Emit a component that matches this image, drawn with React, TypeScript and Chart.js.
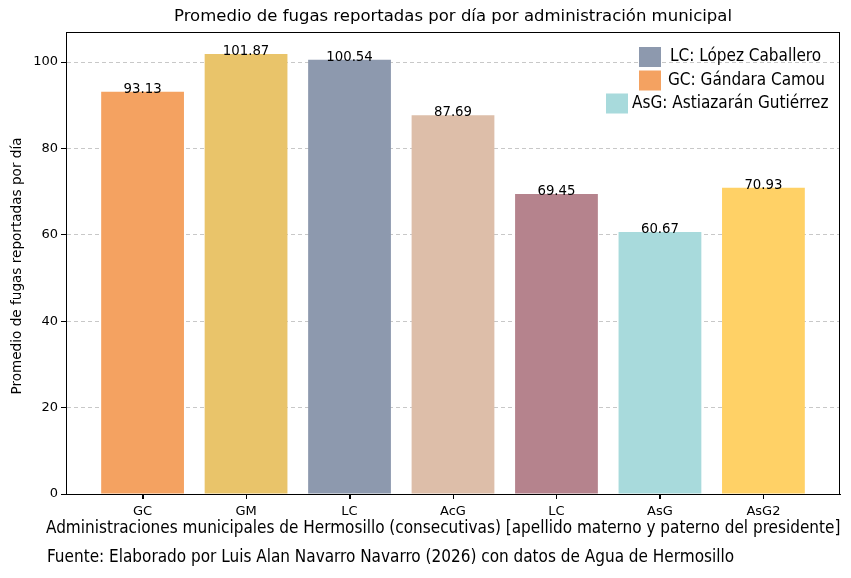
import React, { useEffect, useRef } from "react";
import { Chart, registerables } from "chart.js";

Chart.register(...registerables);

const categories = ["GC", "GM", "LC", "AcG", "LC", "AsG", "AsG2"];
const values = [93.13, 101.87, 100.54, 87.69, 69.45, 60.67, 70.93];
const barColors = ["#F4A261", "#E9C46A", "#8D99AE", "#DDBEA9", "#B5838D", "#A8DADC", "#FFD166"];
const yTicks = [0, 20, 40, 60, 80, 100];
const legendLabels = ["LC: López Caballero", "GC: Gándara Camou", "AsG: Astiazarán Gutiérrez"];
const legendColors = ["#8D99AE", "#F4A261", "#A8DADC"];

const titleText = "Promedio de fugas reportadas por día por administración municipal";
const yTitle = "Promedio de fugas reportadas por día";
const xTitle = "Administraciones municipales de Hermosillo (consecutivas) [apellido materno y paterno del presidente]";
const sourceText = "Fuente: Elaborado por Luis Alan Navarro Navarro (2026) con datos de Agua de Hermosillo";

const DV = "'DejaVu Sans', sans-serif";
const COND = "'Liberation Sans Narrow', 'DejaVu Sans Condensed', 'Roboto Condensed', sans-serif";

const decorPlugin = {
  id: "decor",
  afterDatasetsDraw(chart: any) {
    const { ctx, chartArea } = chart;
    const { left, right, top, bottom } = chartArea;
    ctx.save();
    // frame
    ctx.strokeStyle = "#000";
    ctx.lineWidth = 1;
    ctx.strokeRect(left + 0.5, top + 0.5, right - left - 1, bottom - top);
    // x tick marks
    const xs = chart.scales.x;
    ctx.beginPath();
    categories.forEach((_, i) => {
      const px = Math.round(xs.getPixelForValue(i)) + 0.5;
      ctx.moveTo(px, bottom);
      ctx.lineTo(px, bottom + 5);
    });
    ctx.stroke();
    // value labels
    const meta = chart.getDatasetMeta(0);
    ctx.fillStyle = "#000";
    ctx.font = `13.3px ${DV}`;
    ctx.textAlign = "center";
    ctx.textBaseline = "alphabetic";
    meta.data.forEach((bar: any, i: number) => {
      ctx.fillText(values[i].toFixed(2), bar.x, bar.y + 1);
    });
    // title
    ctx.font = `16.5px ${DV}`;
    ctx.textBaseline = "middle";
    ctx.fillText(titleText, (left + right) / 2, 17);
    // y title
    ctx.save();
    ctx.translate(17, (top + bottom) / 2 + 3);
    ctx.rotate(-Math.PI / 2);
    ctx.font = `13.6px ${DV}`;
    ctx.fillText(yTitle, 0, 0);
    ctx.restore();
    // x title & source
    ctx.textAlign = "left";
    ctx.font = `17px ${COND}`;
    ctx.fillText(xTitle, 46, 529);
    ctx.fillText(sourceText, 47, 558);
    // legend
    ctx.font = `17px ${COND}`;
    const textX = [670, 668, 632];
    const patchX = [639, 639, 606];
    const ys = [57, 80.5, 103.5];
    legendLabels.forEach((lab, i) => {
      ctx.fillStyle = legendColors[i];
      ctx.fillRect(patchX[i], ys[i] - 10, 22, 20);
      ctx.fillStyle = "#000";
      ctx.textAlign = "left";
      ctx.fillText(lab, textX[i], ys[i]);
    });
    ctx.restore();
  },
};

export default function App() {
  const ref = useRef<HTMLCanvasElement>(null);
  useEffect(() => {
    document.body.style.margin = "0";
    const chart = new Chart(ref.current as HTMLCanvasElement, {
      type: "bar",
      data: {
        datasets: [
          {
            data: values.map((v, i) => ({ x: i, y: v })),
            backgroundColor: barColors,
            borderWidth: 0,
            barPercentage: 0.8,
            categoryPercentage: 1.0,
          },
        ],
      },
      options: {
        animation: false,
        responsive: false,
        devicePixelRatio: 1,
        layout: { padding: { left: 0, right: 11, top: 32, bottom: 0 } },
        plugins: { legend: { display: false }, tooltip: { enabled: false } },
        scales: {
          x: {
            type: "linear",
            offset: false,
            min: -0.74,
            max: 6.74,
            afterFit(scale: any) {
              scale.height = 84;
            },
            afterBuildTicks(scale: any) {
              scale.ticks = categories.map((_, i) => ({ value: i }));
            },
            ticks: {
              callback: (v: any) => categories[v as number] ?? "",
              color: "#000",
              font: { family: DV, size: 13 },
              padding: 5,
              maxRotation: 0,
              autoSkip: false,
            },
            grid: { offset: false, drawOnChartArea: false, tickLength: 5, tickColor: "#000" },
            border: { display: true, color: "#000" },
          },
          y: {
            min: 0,
            max: 106.96,
            afterFit(scale: any) {
              scale.width = 66;
            },
            afterBuildTicks(scale: any) {
              scale.ticks = yTicks.map((v) => ({ value: v }));
            },
            ticks: {
              color: "#000",
              font: { family: DV, size: 13 },
              padding: 3,
            },
            grid: {
              color: (c: any) => (c.tick && c.tick.value === 0 ? "rgba(0,0,0,0)" : "#c8c8c8"),
              tickLength: 5,
              tickColor: "#000",
              tickBorderDash: [],
            },
            border: { display: true, color: "#000", dash: [4, 3] },
          },
        },
      },
      plugins: [decorPlugin],
    });
    return () => chart.destroy();
  }, []);
  return <canvas ref={ref} width={851} height={578} style={{ display: "block" }} />;
}
